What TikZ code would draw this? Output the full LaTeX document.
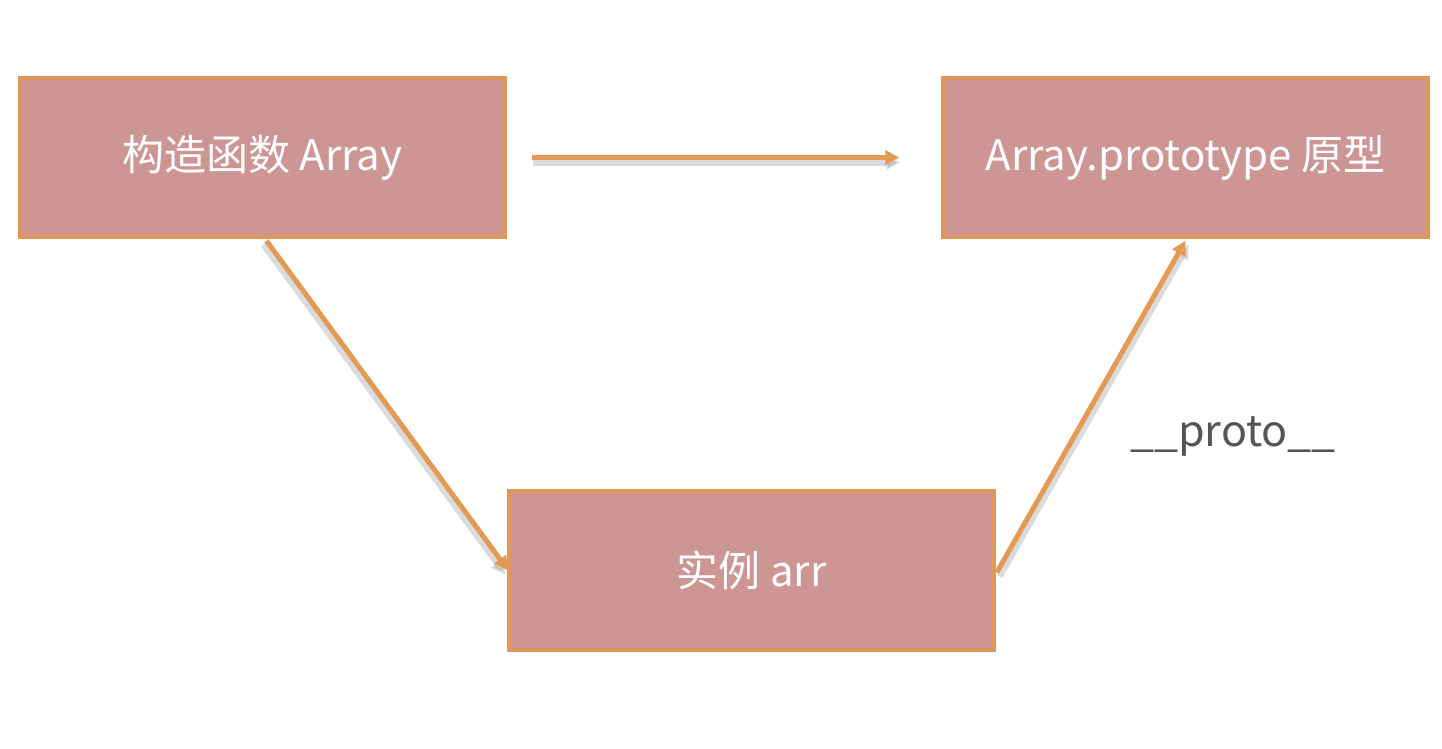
\documentclass[tikz,border=0pt]{standalone}
\usepackage{fontspec}
\setmainfont{Noto Sans CJK SC}
\usetikzlibrary{arrows.meta,calc}
\definecolor{boxfill}{HTML}{CD9694}
\definecolor{boxline}{HTML}{E09858}
\definecolor{arrowc}{HTML}{E39A55}
\definecolor{labelc}{HTML}{555555}
\begin{document}
\begin{tikzpicture}[x=1pt,y=-1pt,
  box/.style={draw=boxline,line width=3.5pt,fill=boxfill,minimum width=485pt,minimum height=159pt,inner sep=0pt,text=white,font=\fontsize{42}{48}\selectfont},
  conn/.style={draw=arrowc,line width=5pt,-{Triangle[length=14pt,width=14pt]}},
  shade/.style={draw=black!40,opacity=0.35,line width=6pt,-{Triangle[length=14pt,width=14pt]}}]
\useasboundingbox[fill=white] (0,0) rectangle (1442,748);
\node[box] (A) at (262.5,157.5) {构造函数 Array};
\node[box] (P) at (1185.5,157.5) {Array.prototype 原型};
\node[box] (I) at (751.5,570.5) {实例 arr};
\coordinate (h1) at ($(A.east)+(25,0)$);
\coordinate (h2) at ($(P.west)+(-42,0)$);
\coordinate (a1) at ($(A.south)+(4,2)$);
\coordinate (i1) at ($(I.west)+(1,0)$);
\coordinate (i2) at ($(I.east)+(1,2)$);
\coordinate (p1) at ($(P.south)+(0,2)$);
\draw[shade] ($(h1)+(1,5)$) -- ($(h2)+(1,5)$);
\draw[shade] ($(a1)+(-3,4)$) -- ($(i1)+(-3,4)$);
\draw[shade] ($(i2)+(3,4)$) -- ($(p1)+(3,4)$);
\draw[conn] (h1) -- (h2);
\draw[conn] (a1) -- (i1);
\draw[conn] (i2) -- (p1);
\node[text=labelc,font=\fontsize{43}{50}\selectfont,anchor=base] (lbl) at (1233,446) {\_\_proto\_\_};
\end{tikzpicture}
\end{document}
